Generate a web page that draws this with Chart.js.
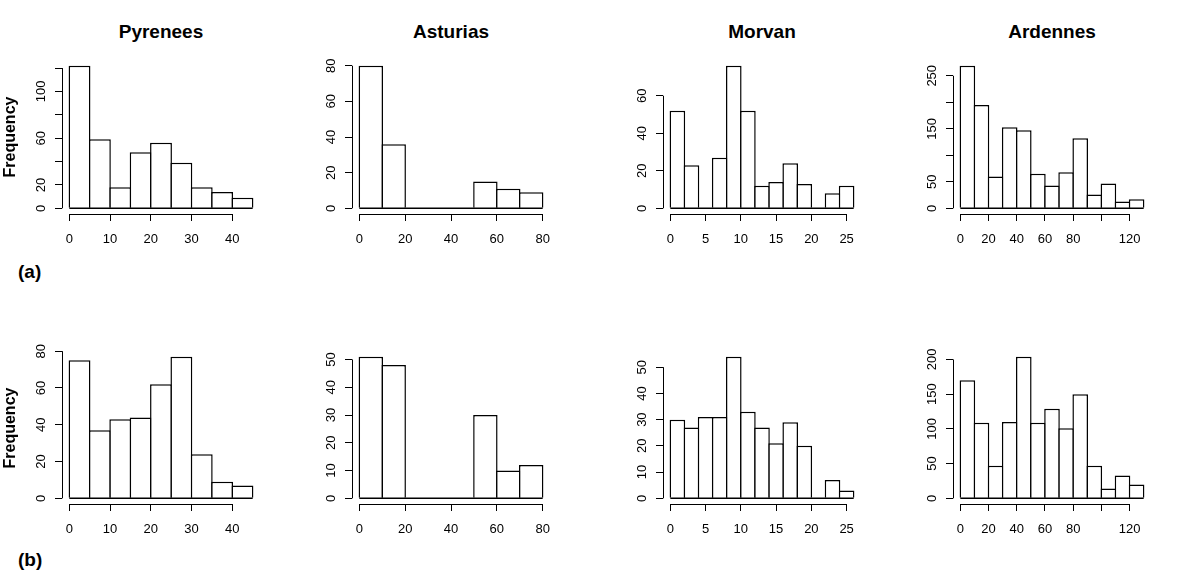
<!DOCTYPE html>
<html>
<head>
<meta charset="utf-8">
<script src="https://cdn.jsdelivr.net/npm/chart.js@4"></script>
<style>
  body { margin: 0; background: #fff; width: 1191px; height: 582px; position: relative; overflow: hidden;
         font-family: "Liberation Sans", Arial, sans-serif; color: #000; }
  canvas { position: absolute; }
  .title { position: absolute; width: 198px; text-align: center; font-weight: bold; font-size: 19px; line-height: 19px; }
  .panel { position: absolute; font-weight: bold; font-size: 19px; line-height: 19px; }
  .ylab { position: absolute; width: 100px; height: 16px; text-align: center; font-weight: bold;
          font-size: 16px; line-height: 16px; transform: rotate(-90deg); }
</style>
</head>
<body>
<script>
// regions (column titles)
const regions = ['Pyrenees', 'Asturias', 'Morvan', 'Ardennes'];

// histogram bin edges per region
const pyreneesBreaks = [0, 5, 10, 15, 20, 25, 30, 35, 40, 45];
const asturiasBreaks = [0, 10, 20, 30, 40, 50, 60, 70, 80];
const morvanBreaks = [0, 2, 4, 6, 8, 10, 12, 14, 16, 18, 20, 22, 24, 26];
const ardennesBreaks = [0, 10, 20, 30, 40, 50, 60, 70, 80, 90, 100, 110, 120, 130];

// counts, row (a)
const pyreneesA = [122, 59, 18, 48, 56, 39, 18, 14, 9];
const asturiasA = [80, 36, 0, 0, 0, 15, 11, 9];
const morvanA = [52, 23, 0, 27, 76, 52, 12, 14, 24, 13, 0, 8, 12];
const ardennesA = [269, 195, 60, 153, 147, 65, 43, 68, 132, 26, 47, 13, 17];

// counts, row (b)
const pyreneesB = [75, 37, 43, 44, 62, 77, 24, 9, 7];
const asturiasB = [51, 48, 0, 0, 0, 30, 10, 12];
const morvanB = [30, 27, 31, 31, 54, 33, 27, 21, 29, 20, 0, 7, 3];
const ardennesB = [170, 109, 47, 110, 204, 109, 129, 101, 150, 47, 14, 33, 20];

// x axis ticks / printed labels
const pyreneesXTicks = [0, 10, 20, 30, 40];
const asturiasXTicks = [0, 20, 40, 60, 80];
const morvanXTicks = [0, 5, 10, 15, 20, 25];
const ardennesXTicks = [0, 20, 40, 60, 80, 100, 120];
const ardennesXLabels = [0, 20, 40, 60, 80, 120];

// y axis ticks / printed labels
const pyreneesAYTicks = [0, 20, 40, 60, 80, 100, 120];
const pyreneesAYLabels = [0, 20, 60, 100];
const asturiasAYTicks = [0, 20, 40, 60, 80];
const morvanAYTicks = [0, 20, 40, 60];
const ardennesAYTicks = [0, 50, 100, 150, 200, 250];
const ardennesAYLabels = [0, 50, 150, 250];
const pyreneesBYTicks = [0, 20, 40, 60, 80];
const asturiasBYTicks = [0, 10, 20, 30, 40, 50];
const morvanBYTicks = [0, 10, 20, 30, 40, 50];
const ardennesBYTicks = [0, 50, 100, 150, 200];

const rowNames = ['(a)', '(b)'];

// layout (pixels)
const colLeft = [62, 352, 663, 953];
const rowTop = [60, 351];
const plotW = 198;
const plotH = [154, 153];
const BAR_LINE = 1.5;
const FONT = '"Liberation Sans", Arial, sans-serif';

// R-style axes: lines only between first and last tick, rotated y labels
const rAxes = {
  id: 'rAxes',
  afterDraw(chart, args, opts) {
    const { ctx, chartArea: a, scales: { x, y } } = chart;
    const xt = x.ticks, yt = y.ticks;
    ctx.save();
    ctx.strokeStyle = '#000';
    ctx.lineWidth = 1;
    ctx.beginPath();
    const by = Math.round(a.bottom) + 0.5;
    ctx.moveTo(x.getPixelForValue(xt[0].value), by);
    ctx.lineTo(x.getPixelForValue(xt[xt.length - 1].value), by);
    const lx = Math.round(a.left) + 0.5;
    ctx.moveTo(lx, y.getPixelForValue(yt[0].value));
    ctx.lineTo(lx, y.getPixelForValue(yt[yt.length - 1].value));
    ctx.stroke();
    ctx.fillStyle = '#000';
    ctx.font = '13px ' + FONT;
    ctx.textAlign = 'center';
    ctx.textBaseline = 'middle';
    opts.yLabels.forEach(v => {
      ctx.save();
      ctx.translate(a.left - 21, y.getPixelForValue(v));
      ctx.rotate(-Math.PI / 2);
      ctx.fillText(String(v), 0, 0);
      ctx.restore();
    });
    ctx.restore();
  }
};

function addText(cls, text, left, top) {
  const d = document.createElement('div');
  d.className = cls;
  d.textContent = text;
  d.style.left = left + 'px';
  d.style.top = top + 'px';
  document.body.appendChild(d);
}

function makeHist(col, row, breaks, counts, xTicks, xLabels, yTicks, yLabels) {
  const h = plotH[row];
  const cv = document.createElement('canvas');
  cv.width = plotW + 72;
  cv.height = h + 50;
  cv.style.left = (colLeft[col] - 60) + 'px';
  cv.style.top = (rowTop[row] - 10) + 'px';
  document.body.appendChild(cv);

  const b0 = breaks[0], bN = breaks[breaks.length - 1];
  const ymax = Math.max(...counts);
  const bars = counts.map((c, i) => ({ x: (breaks[i] + breaks[i + 1]) / 2, y: c }));
  // widen bars by one line width so neighbouring outlines overlap like R's rect()
  const binPx = plotW * (breaks[1] - breaks[0]) / ((bN - b0) * 1.08);

  new Chart(cv.getContext('2d'), {
    type: 'bar',
    data: {
      datasets: [
        {
          // common baseline of all rectangles (also shows under empty bins)
          type: 'line',
          data: [{ x: b0, y: 0 }, { x: bN, y: 0 }],
          borderColor: '#000',
          borderWidth: BAR_LINE,
          pointRadius: 0
        },
        {
          data: bars,
          backgroundColor: '#fff',
          borderColor: '#000',
          borderWidth: BAR_LINE,
          borderSkipped: 'start',
          barPercentage: 1 + BAR_LINE / binPx,
          categoryPercentage: 1
        }
      ]
    },
    options: {
      responsive: false,
      animation: false,
      layout: { padding: { top: 10, right: 12, left: 0, bottom: 0 } },
      plugins: {
        legend: { display: false },
        tooltip: { enabled: false },
        rAxes: { yLabels: yLabels || yTicks }
      },
      scales: {
        x: {
          type: 'linear',
          offset: false,
          min: b0 - 0.04 * (bN - b0),
          max: bN + 0.04 * (bN - b0),
          afterBuildTicks: s => { s.ticks = xTicks.map(v => ({ value: v })); },
          afterFit: s => { s.height = 40; },
          border: { display: false },
          grid: { offset: false, drawOnChartArea: false, tickLength: 7, color: '#000' },
          ticks: {
            color: '#000', font: { size: 13, family: FONT }, padding: 11,
            maxRotation: 0, autoSkip: false,
            callback: v => ((xLabels || xTicks).includes(v) ? String(v) : '')
          }
        },
        y: {
          min: -0.04 * ymax,
          max: 1.04 * ymax,
          afterBuildTicks: s => { s.ticks = yTicks.map(v => ({ value: v })); },
          afterFit: s => { s.width = 60; },
          border: { display: false },
          grid: { drawOnChartArea: false, tickLength: 7, color: '#000' },
          ticks: { display: false }
        }
      }
    },
    plugins: [rAxes]
  });
}

makeHist(0, 0, pyreneesBreaks, pyreneesA, pyreneesXTicks, null, pyreneesAYTicks, pyreneesAYLabels);
makeHist(1, 0, asturiasBreaks, asturiasA, asturiasXTicks, null, asturiasAYTicks, null);
makeHist(2, 0, morvanBreaks, morvanA, morvanXTicks, null, morvanAYTicks, null);
makeHist(3, 0, ardennesBreaks, ardennesA, ardennesXTicks, ardennesXLabels, ardennesAYTicks, ardennesAYLabels);
makeHist(0, 1, pyreneesBreaks, pyreneesB, pyreneesXTicks, null, pyreneesBYTicks, null);
makeHist(1, 1, asturiasBreaks, asturiasB, asturiasXTicks, null, asturiasBYTicks, null);
makeHist(2, 1, morvanBreaks, morvanB, morvanXTicks, null, morvanBYTicks, null);
makeHist(3, 1, ardennesBreaks, ardennesB, ardennesXTicks, ardennesXLabels, ardennesBYTicks, null);

regions.forEach((r, i) => addText('title', r, colLeft[i], 22));
addText('panel', rowNames[0], 18, 262);
addText('panel', rowNames[1], 18, 550);
rowTop.forEach((t, i) => addText('ylab', 'Frequency', 9.5 - 50, t + plotH[i] / 2 - 8));
</script>
</body>
</html>
